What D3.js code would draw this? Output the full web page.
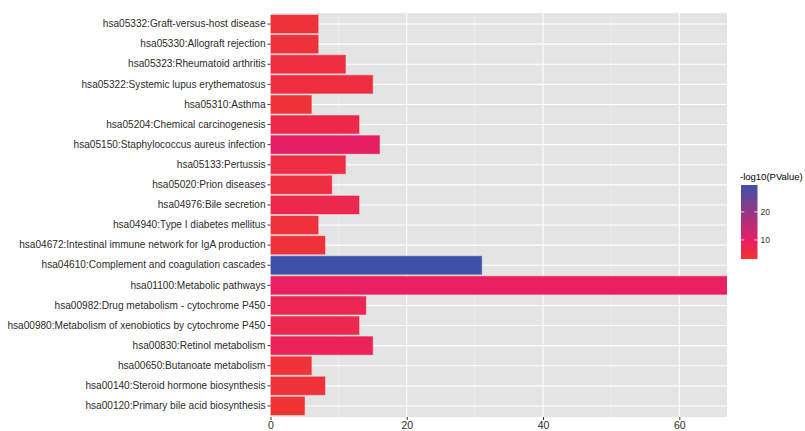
<!DOCTYPE html>
<html><head><meta charset="utf-8">
<script src="https://cdn.jsdelivr.net/npm/d3@7/dist/d3.min.js"></script>
<style>body{margin:0;background:#fff;}</style>
</head><body>
<svg id="c" width="805" height="431"></svg>
<script>
const categories = [
  "hsa05332:Graft-versus-host disease",
  "hsa05330:Allograft rejection",
  "hsa05323:Rheumatoid arthritis",
  "hsa05322:Systemic lupus erythematosus",
  "hsa05310:Asthma",
  "hsa05204:Chemical carcinogenesis",
  "hsa05150:Staphylococcus aureus infection",
  "hsa05133:Pertussis",
  "hsa05020:Prion diseases",
  "hsa04976:Bile secretion",
  "hsa04940:Type I diabetes mellitus",
  "hsa04672:Intestinal immune network for IgA production",
  "hsa04610:Complement and coagulation cascades",
  "hsa01100:Metabolic pathways",
  "hsa00982:Drug metabolism - cytochrome P450",
  "hsa00980:Metabolism of xenobiotics by cytochrome P450",
  "hsa00830:Retinol metabolism",
  "hsa00650:Butanoate metabolism",
  "hsa00140:Steroid hormone biosynthesis",
  "hsa00120:Primary bile acid biosynthesis"
];
const counts = [7,7,11,15,6,13,16,11,9,13,7,8,31,67,14,13,15,6,8,5];
const logP = [4,4,5,5,3.5,6.5,10.5,5.5,5,7,4,4.2,29.6,9.5,7.5,7,8.5,3.5,4,3.2];
const xTicks = [0,20,40,60];
const xMinor = [10,30,50];
const legendTicks = [10,20];
const legendTitle = "-log10(PValue)";
const FONT = "Liberation Sans, Arial, sans-serif";

const svg = d3.select("#c");
const L = 270.5, R = 727, T = 13, B = 417;
const x = d3.scaleLinear().domain([0,67]).range([L,R]);
const y = d3.scaleBand().domain(categories).range([T,B]).padding(0.1);
const cmin = d3.min(logP), cmax = d3.max(logP);
const color = d3.scaleLinear().domain([cmin,10,cmax]).range(["#F03434","#E91E63","#3F51A8"]).interpolate(d3.interpolateRgb);

svg.append("rect").attr("x",L).attr("y",T).attr("width",R-L).attr("height",B-T).attr("fill","#E4E4E5");
const g = svg.append("g");
xMinor.forEach(v=>g.append("line").attr("x1",x(v)).attr("x2",x(v)).attr("y1",T).attr("y2",B).attr("stroke","#F2F2F2").attr("stroke-width",0.6));
xTicks.forEach(v=>g.append("line").attr("x1",x(v)).attr("x2",x(v)).attr("y1",T).attr("y2",B).attr("stroke","#fff").attr("stroke-width",1.1));
categories.forEach(c=>g.append("line").attr("x1",L).attr("x2",R).attr("y1",y(c)+y.bandwidth()/2).attr("y2",y(c)+y.bandwidth()/2).attr("stroke","#fff").attr("stroke-width",1.1));

svg.append("clipPath").attr("id","pc").append("rect").attr("x",L).attr("y",T).attr("width",R-L).attr("height",B-T);
svg.append("g").attr("clip-path","url(#pc)").selectAll("rect.bar").data(categories).join("rect")
  .attr("x",x(0)).attr("y",c=>y(c)).attr("width",(c,i)=>x(counts[i])-x(0)).attr("height",y.bandwidth())
  .attr("fill",(c,i)=>color(logP[i])).attr("stroke",(c,i)=>color(logP[i])).attr("stroke-opacity",0.45).attr("stroke-width",1);

const yAxis = svg.append("g").attr("transform",`translate(${L},0)`).call(d3.axisLeft(y).tickSize(3).tickPadding(2));
yAxis.select(".domain").remove();
yAxis.selectAll("line").attr("stroke","#333");
yAxis.selectAll("text").attr("fill","#2b2b2b").style("font-size","10.1px").style("font-family",FONT);
const xAxis = svg.append("g").attr("transform",`translate(0,${B})`).call(d3.axisBottom(x).tickValues(xTicks).tickSize(3).tickPadding(2).tickFormat(d3.format("d")));
xAxis.select(".domain").remove();
xAxis.selectAll("line").attr("stroke","#333");
xAxis.selectAll("text").attr("fill","#2b2b2b").style("font-size","10.5px").style("font-family",FONT);

// legend
const lx = 741, lw = 16.5, ly0 = 185, ly1 = 259;
const ly = d3.scaleLinear().domain([cmin,cmax]).range([ly1,ly0]);
const grad = svg.append("defs").append("linearGradient").attr("id","lg").attr("x1",0).attr("y1",1).attr("x2",0).attr("y2",0);
d3.range(0,1.0001,0.05).forEach(t=>grad.append("stop").attr("offset",t).attr("stop-color",color(cmin+t*(cmax-cmin))));
svg.append("rect").attr("x",lx).attr("y",ly0).attr("width",lw).attr("height",ly1-ly0).attr("fill","url(#lg)");
legendTicks.forEach(v=>{
  svg.append("line").attr("x1",lx).attr("x2",lx+3.3).attr("y1",ly(v)).attr("y2",ly(v)).attr("stroke","#fff").attr("stroke-width",0.8);
  svg.append("line").attr("x1",lx+lw-3.3).attr("x2",lx+lw).attr("y1",ly(v)).attr("y2",ly(v)).attr("stroke","#fff").attr("stroke-width",0.8);
  svg.append("text").attr("x",lx+lw+3).attr("y",ly(v)).attr("dy","0.35em").style("font-size","8.5px").style("font-family",FONT).attr("fill","#333").text(v);
});
svg.append("text").attr("x",lx-1).attr("y",180).style("font-size","9.5px").style("font-family",FONT).attr("fill","#000").text(legendTitle);
</script>
</body></html>
